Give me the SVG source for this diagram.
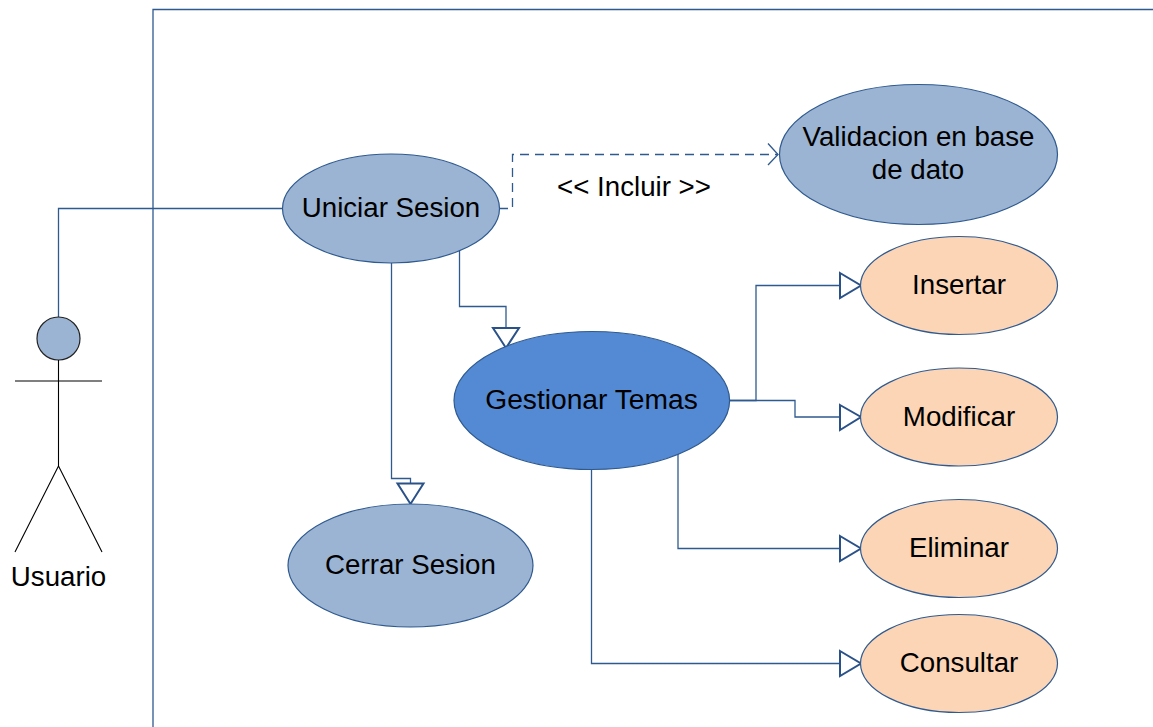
<svg xmlns="http://www.w3.org/2000/svg" width="1153" height="727" viewBox="0 0 1153 727">
<style>
text{font-family:"Liberation Sans",Arial,sans-serif;font-size:27.7px;fill:#000;text-anchor:middle}
.uc{stroke:#2f5a8f;stroke-width:1.2}
.b{fill:#9bb4d3}.d{fill:#548ad4}.o{fill:#fcd5b7}
.c{fill:none;stroke:#2f5a8f;stroke-width:1.3}
.h{fill:#fff;stroke:#2a5188;stroke-width:2}
.a{fill:none;stroke:#000;stroke-width:1.1}
</style>
<rect width="1153" height="727" fill="#fff"/>
<g id="connectors">
<path class="c" d="M153 727V9.500H1153"/>
<path class="c" d="M58.500 317V208.500H283"/>
<path class="c" stroke-dasharray="9 6" d="M499 208.500H512.500V154.500H778"/>
<path class="c" d="M768 143.500L778 154.500L768 165"/>
<path class="c" d="M459.500 250V306.500H506V328"/>
<path class="c" d="M391.500 263V478.500H410.500V483"/>
<path class="c" d="M730 400.500H756V285.500H840"/>
<path class="c" d="M730 400.500H795V417H840"/>
<path class="c" d="M678 452V548.500H840"/>
<path class="c" d="M591.500 469V663.500H840"/>
<path class="h" d="M493 328H519L506 348Z"/>
<path class="h" d="M397.500 483.500H423.500L410.500 504Z"/>
<path class="h" d="M840 273L861 285.500L840 298Z"/>
<path class="h" d="M840 405L861 417L840 430Z"/>
<path class="h" d="M840 536L861 548.500L840 561Z"/>
<path class="h" d="M840 651L861 663.500L840 676Z"/>
</g>
<g id="usuario">
<circle cx="58.500" cy="338.500" r="21.500" class="b" stroke="#222" stroke-width="1.200"/>
<path class="a" d="M58.500 360V466M15 381H102M58.500 466L15 552M58.500 466L102 552"/>
<text x="58.500" y="586">Usuario</text>
</g>
<g id="uniciar-sesion">
<ellipse class="uc b" cx="391" cy="208.500" rx="108.500" ry="54.500"/>
<text x="391" y="217">Uniciar Sesion</text>
</g>
<g id="validacion">
<ellipse class="uc b" cx="918.500" cy="154.500" rx="139" ry="70"/>
<text x="918.500" y="146">Validacion en base</text>
<text x="918" y="179">de dato</text>
</g>
<g id="gestionar-temas">
<ellipse class="uc d" cx="591.800" cy="400.500" rx="137.800" ry="69"/>
<text x="591.500" y="408.500" style="font-size:28.2px">Gestionar Temas</text>
</g>
<g id="cerrar-sesion">
<ellipse class="uc b" cx="410.500" cy="565.500" rx="122.500" ry="61.500"/>
<text x="410.500" y="574">Cerrar Sesion</text>
</g>
<g id="insertar">
<ellipse class="uc o" cx="959" cy="285.500" rx="98.500" ry="49"/>
<text x="959" y="294">Insertar</text>
</g>
<g id="modificar">
<ellipse class="uc o" cx="959" cy="417" rx="98.500" ry="49"/>
<text x="959" y="426">Modificar</text>
</g>
<g id="eliminar">
<ellipse class="uc o" cx="959" cy="548.500" rx="98.500" ry="49"/>
<text x="959" y="557">Eliminar</text>
</g>
<g id="consultar">
<ellipse class="uc o" cx="959" cy="663.500" rx="98.500" ry="49"/>
<text x="959" y="672">Consultar</text>
</g>
<text x="634" y="196">&lt;&lt; Incluir &gt;&gt;</text>
</svg>
